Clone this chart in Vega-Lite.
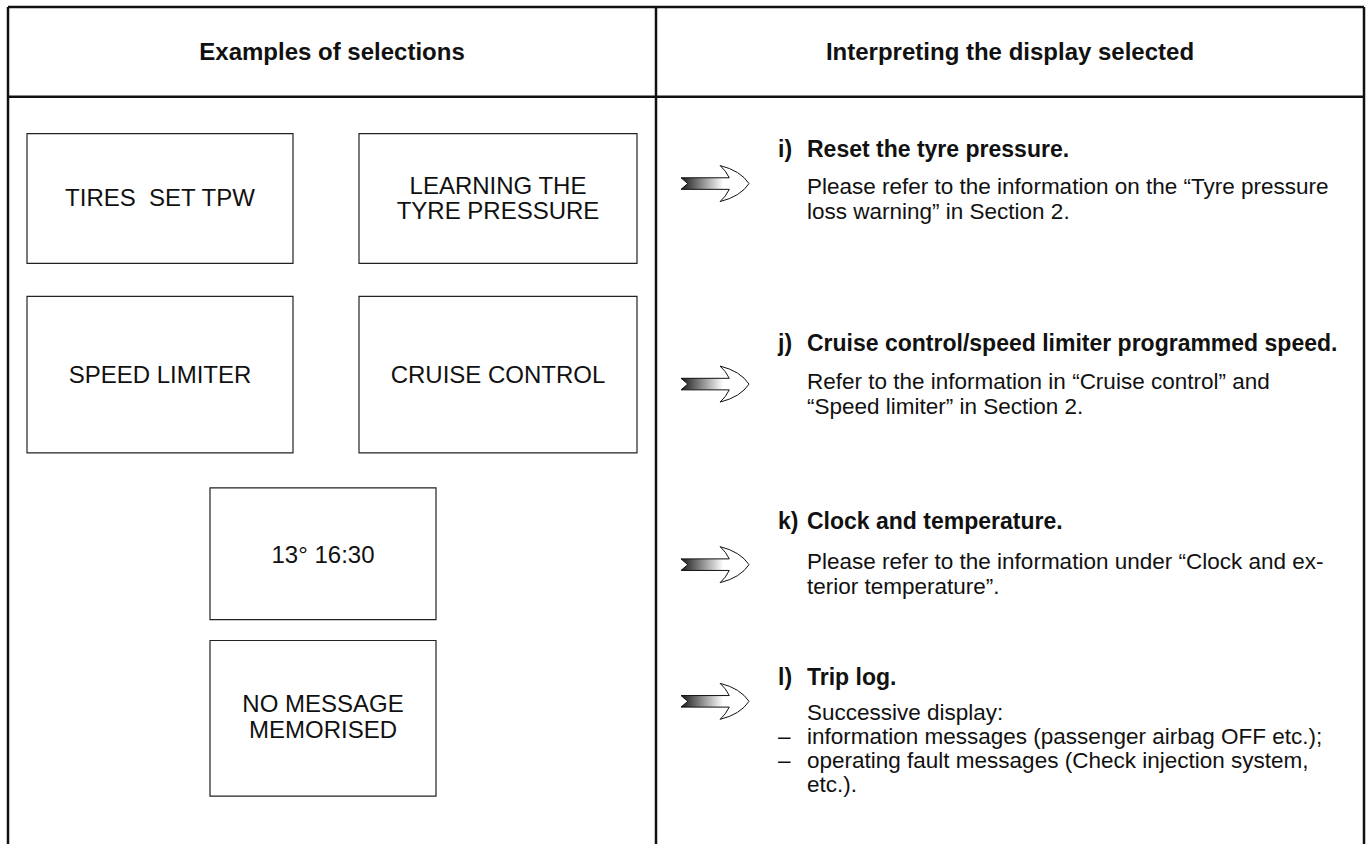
{
  "$schema": "https://vega.github.io/schema/vega-lite/v6.json",
  "width": 1371,
  "height": 846,
  "autosize": {"type": "fit", "contains": "padding"},
  "padding": 0,
  "background": "white",
  "config": {"view": {"stroke": null}},
  "datasets": {
    "frameH": [
      {"x": 8, "x2": 1364, "y": 7},
      {"x": 8, "x2": 1364, "y": 97}
    ],
    "frameV": [
      {"x": 8, "y": 7, "y2": 846},
      {"x": 656, "y": 7, "y2": 846},
      {"x": 1364, "y": 7, "y2": 846}
    ],
    "boxes": [
      {"x": 27, "x2": 293, "y": 134, "y2": 264},
      {"x": 359, "x2": 637, "y": 134, "y2": 264},
      {"x": 27, "x2": 293, "y": 297, "y2": 454},
      {"x": 359, "x2": 637, "y": 297, "y2": 454},
      {"x": 210, "x2": 436, "y": 489, "y2": 621},
      {"x": 210, "x2": 436, "y": 642, "y2": 798}
    ],
    "boxText": [
      {"x": 160, "y": 199, "text": "TIRES\u00a0 SET TPW"},
      {"x": 498, "y": 187, "text": "LEARNING THE"},
      {"x": 498, "y": 213, "text": "TYRE PRESSURE"},
      {"x": 160, "y": 377, "text": "SPEED LIMITER"},
      {"x": 498, "y": 377, "text": "CRUISE CONTROL"},
      {"x": 323, "y": 557, "text": "13° 16:30"},
      {"x": 323, "y": 707, "text": "NO MESSAGE"},
      {"x": 323, "y": 733, "text": "MEMORISED"}
    ],
    "headers": [
      {"x": 332, "y": 53, "text": "Examples of selections"},
      {"x": 1010, "y": 53, "text": "Interpreting the display selected"}
    ],
    "labels": [
      {"x": 778, "y": 150, "text": "i)"},
      {"x": 778, "y": 345, "text": "j)"},
      {"x": 778, "y": 523, "text": "k)"},
      {"x": 778, "y": 680, "text": "l)"}
    ],
    "headings": [
      {"x": 807, "y": 150, "text": "Reset the tyre pressure."},
      {"x": 807, "y": 345, "text": "Cruise control/speed limiter programmed speed."},
      {"x": 807, "y": 523, "text": "Clock and temperature."},
      {"x": 807, "y": 680, "text": "Trip log."}
    ],
    "body": [
      {"x": 807, "y": 187, "text": "Please refer to the information on the “Tyre pressure"},
      {"x": 807, "y": 213, "text": "loss warning” in Section 2."},
      {"x": 807, "y": 383, "text": "Refer to the information in “Cruise control” and"},
      {"x": 807, "y": 408, "text": "“Speed limiter” in Section 2."},
      {"x": 807, "y": 563, "text": "Please refer to the information under “Clock and ex-"},
      {"x": 807, "y": 588, "text": "terior temperature”."},
      {"x": 807, "y": 715, "text": "Successive display:"},
      {"x": 778, "y": 739, "text": "–"},
      {"x": 807, "y": 739, "text": "information messages (passenger airbag OFF etc.);"},
      {"x": 778, "y": 763, "text": "–"},
      {"x": 807, "y": 763, "text": "operating fault messages (Check injection system,"},
      {"x": 807, "y": 787, "text": "etc.)."}
    ],
    "arrows": [
      {"x": 715, "y": 184},
      {"x": 715, "y": 385},
      {"x": 715, "y": 566},
      {"x": 715, "y": 703}
    ]
  },
  "encoding": {
    "x": {"field": "x", "type": "quantitative", "axis": null, "scale": {"domain": [0, 1371], "nice": false, "zero": false}},
    "y": {"field": "y", "type": "quantitative", "axis": null, "scale": {"domain": [0, 846], "nice": false, "zero": false, "reverse": true}}
  },
  "layer": [
    {
      "data": {"name": "frameH"},
      "mark": {"type": "rule", "stroke": "#111", "strokeWidth": 2.5},
      "encoding": {"x2": {"field": "x2"}}
    },
    {
      "data": {"name": "frameV"},
      "mark": {"type": "rule", "stroke": "#111", "strokeWidth": 2.5},
      "encoding": {"y2": {"field": "y2"}}
    },
    {
      "data": {"name": "boxes"},
      "mark": {"type": "rect", "fill": "white", "stroke": "#222", "strokeWidth": 1.2},
      "encoding": {"x2": {"field": "x2"}, "y2": {"field": "y2"}}
    },
    {
      "data": {"name": "boxText"},
      "mark": {"type": "text", "font": "Liberation Sans", "fontSize": 24, "align": "center", "baseline": "middle", "color": "#111"},
      "encoding": {"text": {"field": "text"}}
    },
    {
      "data": {"name": "headers"},
      "mark": {"type": "text", "font": "Liberation Sans", "fontSize": 24, "fontWeight": "bold", "align": "center", "baseline": "middle", "color": "#111"},
      "encoding": {"text": {"field": "text"}}
    },
    {
      "data": {"name": "labels"},
      "mark": {"type": "text", "font": "Liberation Sans", "fontSize": 23, "fontWeight": "bold", "align": "left", "baseline": "middle", "color": "#111"},
      "encoding": {"text": {"field": "text"}}
    },
    {
      "data": {"name": "headings"},
      "mark": {"type": "text", "font": "Liberation Sans", "fontSize": 23, "fontWeight": "bold", "align": "left", "baseline": "middle", "color": "#111"},
      "encoding": {"text": {"field": "text"}}
    },
    {
      "data": {"name": "body"},
      "mark": {"type": "text", "font": "Liberation Sans", "fontSize": 22.5, "align": "left", "baseline": "middle", "color": "#111"},
      "encoding": {"text": {"field": "text"}}
    },
    {
      "data": {"name": "arrows"},
      "mark": {
        "type": "point",
        "shape": "M-1,-0.17 L0.42,-0.17 Q0.32,-0.38 0.15,-0.53 Q0.75,-0.38 1,0 Q0.75,0.38 0.15,0.53 Q0.32,0.38 0.42,0.17 L-1,0.17 L-0.8,0 Z",
        "size": 4624,
        "filled": true,
        "opacity": 1,
        "fillOpacity": 1,
        "fill": {"gradient": "linear", "x1": 0, "y1": 0, "x2": 1, "y2": 0, "stops": [{"offset": 0, "color": "#1a1a1a"}, {"offset": 0.62, "color": "#ffffff"}, {"offset": 1, "color": "#ffffff"}]},
        "stroke": "#111",
        "strokeWidth": 1
      }
    }
  ]
}
